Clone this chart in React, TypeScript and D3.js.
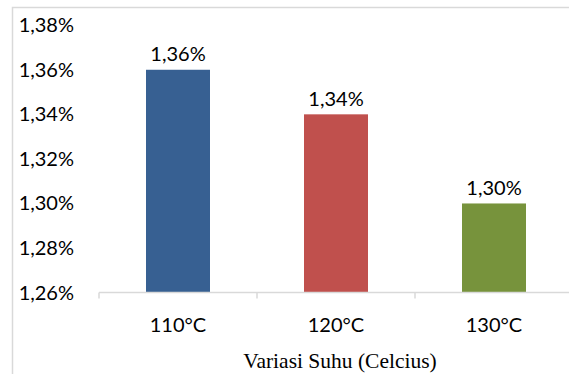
import React from "react";
import * as d3 from "d3";

const categories = ["110°C", "120°C", "130°C"];
const values = [1.36, 1.34, 1.3];
const barColors = ["#376092", "#C0504D", "#77933C"];
const yTicks = [1.26, 1.28, 1.3, 1.32, 1.34, 1.36, 1.38];
const xTitle = "Variasi Suhu (Celcius)";

const fmt = (v: number) => v.toFixed(2).replace(".", ",") + "%";

export default function App() {
  const W = 569;
  const H = 374;
  const x0 = 99;
  const step = 158;
  const x = d3
    .scaleBand<string>()
    .domain(categories)
    .range([x0, x0 + step * categories.length])
    .paddingInner(0.595)
    .paddingOuter(0.2975);
  const y = d3.scaleLinear().domain([1.26, 1.38]).range([292.6, 25.2]);
  const font = "Lato, 'Open Sans', sans-serif";
  const fs = 20;
  const gray = "#D9D9D9";
  const boundaries = d3.range(categories.length + 1).map((i) => x0 + i * step);

  return (
    <svg
      width={W}
      height={H}
      style={{ position: "absolute", left: 0, top: 0, background: "#fff" }}
    >
      <rect x={12.5} y={7.5} width={W} height={H} fill="#fff" stroke={gray} strokeWidth={1.5} />
      {yTicks.map((t) => (
        <text
          key={t}
          x={74}
          y={y(t) + 7}
          textAnchor="end"
          fontFamily={font}
          fontSize={fs}
          fill="#000"
        >
          {fmt(t)}
        </text>
      ))}
      {categories.map((c, i) => (
        <rect
          key={c}
          x={x(c)}
          y={y(values[i])}
          width={x.bandwidth()}
          height={y(1.26) - y(values[i])}
          fill={barColors[i]}
        />
      ))}
      <line x1={x0} x2={W} y1={y(1.26)} y2={y(1.26)} stroke={gray} strokeWidth={1.5} />
      {boundaries.map((b) => (
        <line key={b} x1={b} x2={b} y1={y(1.26)} y2={y(1.26) + 6} stroke={gray} strokeWidth={1.5} />
      ))}
      {categories.map((c, i) => (
        <text
          key={"v" + c}
          x={(x(c) as number) + x.bandwidth() / 2}
          y={y(values[i]) - 8.6}
          textAnchor="middle"
          fontFamily={font}
          fontSize={fs}
          fill="#000"
        >
          {fmt(values[i])}
        </text>
      ))}
      {categories.map((c) => (
        <text
          key={"c" + c}
          x={(x(c) as number) + x.bandwidth() / 2}
          y={331.7}
          textAnchor="middle"
          fontFamily={font}
          fontSize={fs}
          fill="#000"
        >
          {c}
        </text>
      ))}
      <text
        x={340}
        y={368.3}
        textAnchor="middle"
        fontFamily="'Liberation Serif', 'Times New Roman', serif"
        fontSize={21.5}
        fill="#000"
      >
        {xTitle}
      </text>
    </svg>
  );
}
